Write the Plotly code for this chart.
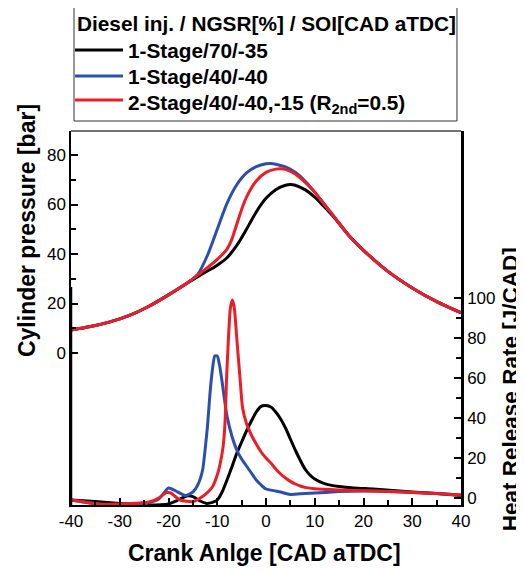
import plotly.graph_objects as go

# ---------------- data ----------------
series_names = ["1-Stage/70/-35", "1-Stage/40/-40", "2-Stage/40/-40,-15 (R<sub>2nd</sub>=0.5)"]
series_colors = ["#000000", "#2b4fae", "#ee1c25"]

# Cylinder pressure [bar]
p_black_x = [-40, -36, -32, -28, -24, -20, -16, -13, -10, -8, -6, -4, -2, 0, 2, 4, 5, 6, 8, 10, 12, 14, 17, 20, 25, 30, 35, 40]
p_black_y = [9.3, 10.7, 12.6, 15.2, 18.9, 23.5, 28.5, 32.0, 35.5, 38.5, 43.5, 50.0, 57.0, 62.5, 66.0, 67.8, 68.1, 67.8, 66.0, 63.0, 59.0, 54.7, 47.5, 41.5, 33.0, 26.3, 20.8, 16.3]

p_blue_x = [-40, -36, -32, -28, -24, -20, -16, -14, -12, -10, -8, -6, -4, -2, 0, 1, 2, 4, 6, 8, 10, 12, 14, 17, 20, 25, 30, 35, 40]
p_blue_y = [9.3, 10.7, 12.6, 15.2, 18.9, 23.5, 28.5, 31.8, 39.5, 50.0, 60.5, 68.0, 72.8, 75.3, 76.5, 76.6, 76.3, 75.2, 73.0, 69.5, 65.0, 60.0, 55.0, 47.5, 41.5, 33.0, 26.3, 20.8, 16.3]

p_red_x = [-40, -36, -32, -28, -24, -20, -16, -14, -12, -10, -8, -7, -6, -5, -4, -2, 0, 2, 3, 4, 6, 8, 10, 12, 14, 17, 20, 25, 30, 35, 40]
p_red_y = [9.3, 10.7, 12.6, 15.2, 18.9, 23.5, 28.5, 31.5, 34.5, 37.8, 42.0, 46.0, 52.0, 58.0, 63.0, 69.5, 73.0, 74.3, 74.4, 74.2, 72.3, 69.0, 65.0, 60.0, 55.0, 47.5, 41.5, 33.0, 26.3, 20.8, 16.3]

# Heat release rate [J/CAD]
h_black_x = [-40, -35, -30, -25, -20, -18, -16.3, -15, -13.5, -12.2, -11, -10, -9, -8, -7, -6, -5, -4, -3, -2, -1, 0, 1, 2, 3, 4, 5, 6, 7, 8, 9, 10, 12, 15, 18, 22, 26, 30, 35, 40]
h_black_y = [-1.0, -1.8, -2.8, -3.5, -3.0, -1.0, 1.0, 0.7, -1.5, -2.7, -2.2, -1.0, 3.0, 9.0, 15.5, 22.3, 28.0, 33.5, 38.5, 43.0, 45.8, 46.2, 45.5, 43.0, 39.5, 35.0, 29.5, 24.0, 19.0, 14.5, 11.5, 9.5, 7.2, 5.7, 5.0, 4.5, 3.8, 3.0, 2.2, 1.3]

h_blue_x = [-40, -35, -32, -28, -25, -22, -20, -18.5, -16.5, -15, -14, -13, -12.5, -12, -11.5, -11, -10.5, -10, -9.5, -9, -8.5, -8, -7, -6, -5, -4, -3, -2, -1, 0, 2, 3, 5, 8, 12, 15, 20, 25, 30, 35, 40]
h_blue_y = [-1.0, -3.0, -4.3, -4.0, -3.0, -0.5, 5.0, 3.5, 1.2, 3.0, 6.5, 14.0, 24.0, 36.0, 52.0, 64.0, 71.0, 71.0, 66.0, 58.0, 49.0, 41.0, 31.0, 24.0, 19.5, 16.0, 12.5, 9.0, 6.5, 4.5, 3.5, 3.0, 1.8, 2.3, 2.8, 3.2, 3.5, 3.3, 2.8, 2.2, 1.5]

h_red_x = [-40, -34, -28, -24, -22, -20.4, -19.5, -18.5, -17.6, -15, -13.5, -12.2, -11, -10.1, -9.5, -8.8, -8.4, -8.1, -7.7, -7.3, -6.9, -6.5, -6, -5.3, -4.8, -4, -3, -2, -1, 0, 1, 2, 3, 4, 5, 6, 7, 8, 10, 15, 20, 25, 30, 35, 40]
h_red_y = [-1.0, -3.0, -2.8, -2.0, 0.0, 2.7, 2.5, 0.5, -1.0, -1.8, 0.0, 2.3, 5.5, 10.7, 16.0, 25.7, 38.0, 59.0, 80.0, 95.0, 99.0, 95.0, 80.0, 59.0, 45.0, 37.3, 31.5, 27.0, 23.0, 20.0, 17.5, 14.5, 12.0, 10.0, 8.3, 7.0, 6.0, 5.3, 4.6, 4.0, 3.6, 3.3, 2.8, 2.2, 1.5]

x_ticks = [-40, -30, -20, -10, 0, 10, 20, 30, 40]
x_tick_text = ["-40", "-30", "-20", "-10", "0", "10", "20", "30", "40"]
p_ticks = [0, 20, 40, 60, 80]
h_ticks = [0, 20, 40, 60, 80, 100]

legend_title = "Diesel inj. / NGSR[%] / SOI[CAD aTDC]"
x_title = "Crank Anlge [CAD aTDC]"
p_title = "Cylinder pressure [bar]"
h_title = "Heat Release Rate [J/CAD]"

# ---------------- figure ----------------
FONT = "Liberation Sans, Arial, sans-serif"
fig = go.Figure()

p_sets = [(p_black_x, p_black_y), (p_blue_x, p_blue_y), (p_red_x, p_red_y)]
h_sets = [(h_black_x, h_black_y), (h_blue_x, h_blue_y), (h_red_x, h_red_y)]

for i, (name, col) in enumerate(zip(series_names, series_colors)):
    fig.add_trace(go.Scatter(x=p_sets[i][0], y=p_sets[i][1], mode="lines", name=name,
                             line=dict(color=col, width=3, shape="spline", smoothing=0.8),
                             yaxis="y", showlegend=False))
for i, (name, col) in enumerate(zip(series_names, series_colors)):
    fig.add_trace(go.Scatter(x=h_sets[i][0], y=h_sets[i][1], mode="lines", name=name,
                             line=dict(color=col, width=3, shape="spline", smoothing=0.6),
                             yaxis="y2", showlegend=False))

tickfont = dict(family=FONT, size=17, color="black")

# the page adds an 8px body margin, so the figure is 8px smaller than the window
fig.update_layout(
    width=516, height=564,
    margin=dict(l=63, r=63, t=123, b=67, autoexpand=False),
    paper_bgcolor="white", plot_bgcolor="white",
    showlegend=False,
    xaxis=dict(
        range=[-40, 40], tickvals=x_ticks, ticktext=x_tick_text,
        ticks="inside", ticklen=7, tickwidth=1.5, tickcolor="black",
        minor=dict(tickvals=[-35, -25, -15, -5, 5, 15, 25, 35], ticks="inside", ticklen=5, tickwidth=1.5, tickcolor="black"),
        showline=True, linecolor="black", linewidth=2, mirror=False,
        showgrid=False, zeroline=False, tickfont=tickfont,
    ),
    yaxis=dict(
        range=[-61.4, 89.7], tickvals=p_ticks, ticks="inside", ticklen=7, tickwidth=1.5, tickcolor="black",
        minor=dict(tickvals=[10, 30, 50, 70], ticks="inside", ticklen=5, tickwidth=1.5, tickcolor="black"),
        showline=True, linecolor="black", linewidth=1.5,
        showgrid=False, zeroline=False, tickfont=tickfont,
    ),
    yaxis2=dict(
        range=[-3.5, 183.5], tickvals=h_ticks, ticks="inside", ticklen=7, tickwidth=1.5, tickcolor="black",
        minor=dict(tickvals=[10, 30, 50, 70, 90], ticks="inside", ticklen=5, tickwidth=1.5, tickcolor="black"),
        overlaying="y", side="right",
        showline=True, linecolor="black", linewidth=2.5,
        showgrid=False, zeroline=False, tickfont=tickfont,
    ),
)

# top frame line and heavier lower segment of the left axis
fig.add_shape(type="line", xref="paper", yref="paper", x0=0, x1=1, y0=1, y1=1,
              line=dict(color="#444444", width=1.5))
fig.add_shape(type="line", xref="paper", yref="paper", x0=0, x1=0, y0=0, y1=0.583,
              line=dict(color="black", width=2.5))

# ---- legend box (drawn above the plot area, in paper coordinates) ----
leg_font = dict(family=FONT, size=20.8, color="black", weight="bold")
fig.add_shape(type="rect", xref="paper", yref="paper", x0=0.0077, x1=0.9897, y0=1.0267, y1=1.3316,
              line=dict(color="#333333", width=1), fillcolor="white", layer="above")
fig.add_annotation(text=legend_title, xref="paper", yref="paper", x=0.0095, y=1.288,
                   showarrow=False, font=leg_font, xanchor="left", yanchor="middle")
row_y = [1.2166, 1.1471, 1.0829]
text_y = [1.2140, 1.1445, 1.0735]
for i, (name, col) in enumerate(zip(series_names, series_colors)):
    fig.add_shape(type="line", xref="paper", yref="paper", x0=0.0103, x1=0.1333,
                  y0=row_y[i], y1=row_y[i], line=dict(color=col, width=3))
    fig.add_annotation(text=name, xref="paper", yref="paper", x=0.1405, y=text_y[i],
                       showarrow=False, font=leg_font, xanchor="left", yanchor="middle")

title_font = dict(family=FONT, size=23, color="black", weight="bold")
fig.add_annotation(text=x_title, xref="paper", yref="paper", x=0.497, y=-0.128,
                   showarrow=False, font=title_font, xanchor="center", yanchor="middle")
fig.add_annotation(text=p_title, xref="paper", yref="paper", x=-0.113, y=0.735,
                   showarrow=False, font=title_font, textangle=-90, xanchor="center", yanchor="middle")
fig.add_annotation(text=h_title, xref="paper", yref="paper", x=1.126, y=0.31,
                   showarrow=False, font=dict(family=FONT, size=22.5, color="black", weight="bold"),
                   textangle=-90, xanchor="center", yanchor="middle")

fig.write_html("out.html")
